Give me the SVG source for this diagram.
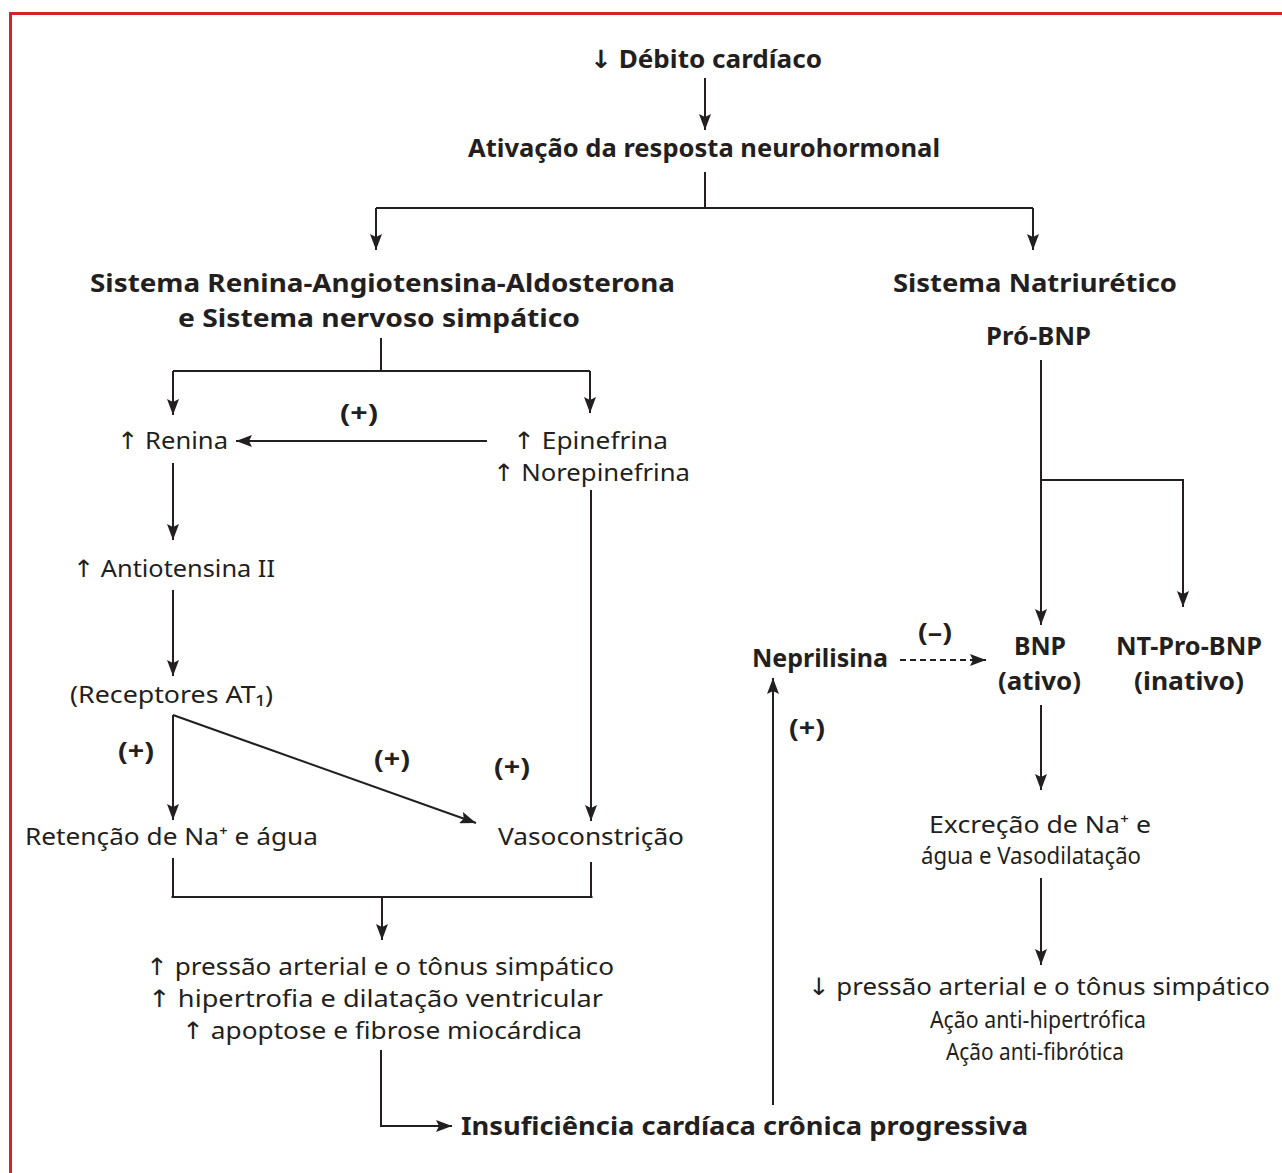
<svg xmlns="http://www.w3.org/2000/svg" width="1282" height="1173" viewBox="0 0 1282 1173">
  <style>
    text { font-family: "Noto Sans", "Open Sans", "DejaVu Sans", sans-serif; fill: #231f20; text-anchor: middle; }
    .b { font-weight: bold; font-size: 25px; }
    .r { font-size: 24px; }
    .ln { fill: none; stroke: #231f20; stroke-width: 2; }
    .ar { fill: none; stroke: #231f20; stroke-width: 2; marker-end: url(#head); }
    .dash { stroke-dasharray: 6 4; }
  </style>
  <defs>
    <marker id="head" viewBox="0 0 16 12" refX="16" refY="6" markerWidth="16" markerHeight="12" markerUnits="userSpaceOnUse" orient="auto">
      <path d="M0,0 L16,6 L0,12 L3,6 z" fill="#231f20"/>
    </marker>
  </defs>

  <rect x="0" y="0" width="1282" height="1173" fill="#ffffff"/>
  <!-- red frame, open on the right and bottom -->
  <path d="M1290,13.5 H10.5 V1180" fill="none" stroke="#d3232b" stroke-width="3"/>

  <g id="connectors">
    <path class="ar" d="M705,78 V130"/>
    <path class="ln" d="M705,172 V208"/>
    <path class="ln" d="M376,208 H1033"/>
    <path class="ar" d="M376,208 V250"/>
    <path class="ar" d="M1033,208 V250"/>

    <path class="ln" d="M381,338 V371"/>
    <path class="ln" d="M173,371 H590"/>
    <path class="ar" d="M173,371 V415"/>
    <path class="ar" d="M590,371 V413"/>

    <path class="ar" d="M487,441 H236"/>
    <path class="ar" d="M173,463 V540"/>
    <path class="ar" d="M173,590 V676"/>
    <path class="ar" d="M173,715 V820"/>
    <path class="ar" d="M173,715 L476,823"/>
    <path class="ar" d="M591,490 V821"/>

    <path class="ln" d="M173,858 V897" stroke-width="3.5"/>
    <path class="ln" d="M591,862 V897" stroke-width="3.5"/>
    <path class="ln" d="M171.5,897 H592.5"/>
    <path class="ar" d="M382,897 V940"/>

    <path class="ar" d="M381,1050 V1126 H452"/>
    <path class="ar" d="M773,1105 V678"/>
    <path class="ar dash" d="M900,660 H986"/>

    <path class="ar" d="M1041,360 V625"/>
    <path class="ar" d="M1041,480 H1183 V607"/>
    <path class="ar" d="M1041,705 V790"/>
    <path class="ar" d="M1041,878 V965"/>
  </g>

  <g id="debito"><text class="b" x="706" y="68" textLength="232" lengthAdjust="spacingAndGlyphs">↓ Débito cardíaco</text></g>
  <g id="ativacao"><text class="b" x="704" y="157" textLength="472" lengthAdjust="spacingAndGlyphs">Ativação da resposta neurohormonal</text></g>
  <g id="sraa">
    <text class="b" x="382.5" y="292" textLength="585" lengthAdjust="spacingAndGlyphs">Sistema Renina-Angiotensina-Aldosterona</text>
    <text class="b" x="379" y="327" textLength="402" lengthAdjust="spacingAndGlyphs">e Sistema nervoso simpático</text>
  </g>
  <g id="natriuretico"><text class="b" x="1035" y="292" textLength="284" lengthAdjust="spacingAndGlyphs">Sistema Natriurético</text></g>
  <g id="probnp"><text class="b" x="1038.5" y="345" textLength="105" lengthAdjust="spacingAndGlyphs">Pró-BNP</text></g>

  <g id="renina"><text class="r" x="172.5" y="449" textLength="111" lengthAdjust="spacingAndGlyphs">↑ Renina</text></g>
  <g id="plus-renina"><text class="b" x="359" y="422" textLength="38" lengthAdjust="spacingAndGlyphs">(+)</text></g>
  <g id="epinefrina">
    <text class="r" x="590.5" y="449" textLength="155" lengthAdjust="spacingAndGlyphs">↑ Epinefrina</text>
    <text class="r" x="591.5" y="481" textLength="197" lengthAdjust="spacingAndGlyphs">↑ Norepinefrina</text>
  </g>
  <g id="angiotensina"><text class="r" x="174" y="577" textLength="202" lengthAdjust="spacingAndGlyphs">↑ Antiotensina II</text></g>
  <g id="receptores"><text class="r" x="171.5" y="703" textLength="203" lengthAdjust="spacingAndGlyphs">(Receptores AT₁)</text></g>
  <g id="plus-retencao"><text class="b" x="136" y="760" textLength="36" lengthAdjust="spacingAndGlyphs">(+)</text></g>
  <g id="plus-diag"><text class="b" x="392" y="768" textLength="36" lengthAdjust="spacingAndGlyphs">(+)</text></g>
  <g id="plus-vaso"><text class="b" x="512" y="776" textLength="36" lengthAdjust="spacingAndGlyphs">(+)</text></g>
  <g id="retencao"><text class="r" x="171.5" y="845" textLength="293" lengthAdjust="spacingAndGlyphs">Retenção de Na⁺ e água</text></g>
  <g id="vasoconstricao"><text class="r" x="591" y="845" textLength="186" lengthAdjust="spacingAndGlyphs">Vasoconstrição</text></g>
  <g id="efeitos">
    <text class="r" x="380" y="975" textLength="468" lengthAdjust="spacingAndGlyphs">↑ pressão arterial e o tônus simpático</text>
    <text class="r" x="375.5" y="1007" textLength="455" lengthAdjust="spacingAndGlyphs">↑ hipertrofia e dilatação ventricular</text>
    <text class="r" x="382" y="1039" textLength="400" lengthAdjust="spacingAndGlyphs">↑ apoptose e fibrose miocárdica</text>
  </g>
  <g id="insuficiencia"><text class="b" x="744.5" y="1135" textLength="567" lengthAdjust="spacingAndGlyphs">Insuficiência cardíaca crônica progressiva</text></g>

  <g id="neprilisina"><text class="b" x="820" y="667" textLength="136" lengthAdjust="spacingAndGlyphs">Neprilisina</text></g>
  <g id="minus"><text class="b" x="935" y="641" textLength="34" lengthAdjust="spacingAndGlyphs">(–)</text></g>
  <g id="plus-nep"><text class="b" x="807" y="737" textLength="36" lengthAdjust="spacingAndGlyphs">(+)</text></g>
  <g id="bnp">
    <text class="b" x="1040" y="655" textLength="52" lengthAdjust="spacingAndGlyphs">BNP</text>
    <text class="b" x="1039.5" y="690" textLength="83" lengthAdjust="spacingAndGlyphs">(ativo)</text>
  </g>
  <g id="ntprobnp">
    <text class="b" x="1189" y="655" textLength="146" lengthAdjust="spacingAndGlyphs">NT-Pro-BNP</text>
    <text class="b" x="1189" y="690" textLength="110" lengthAdjust="spacingAndGlyphs">(inativo)</text>
  </g>
  <g id="excrecao">
    <text class="r" x="1040" y="833" textLength="222" lengthAdjust="spacingAndGlyphs">Excreção de Na⁺ e</text>
    <text class="r" x="1031" y="864" textLength="220" lengthAdjust="spacingAndGlyphs">água e Vasodilatação</text>
  </g>
  <g id="acoes">
    <text class="r" x="1039" y="995" textLength="462" lengthAdjust="spacingAndGlyphs">↓ pressão arterial e o tônus simpático</text>
    <text class="r" x="1038" y="1028" textLength="216" lengthAdjust="spacingAndGlyphs">Ação anti-hipertrófica</text>
    <text class="r" x="1035" y="1060" textLength="178" lengthAdjust="spacingAndGlyphs">Ação anti-fibrótica</text>
  </g>
</svg>
